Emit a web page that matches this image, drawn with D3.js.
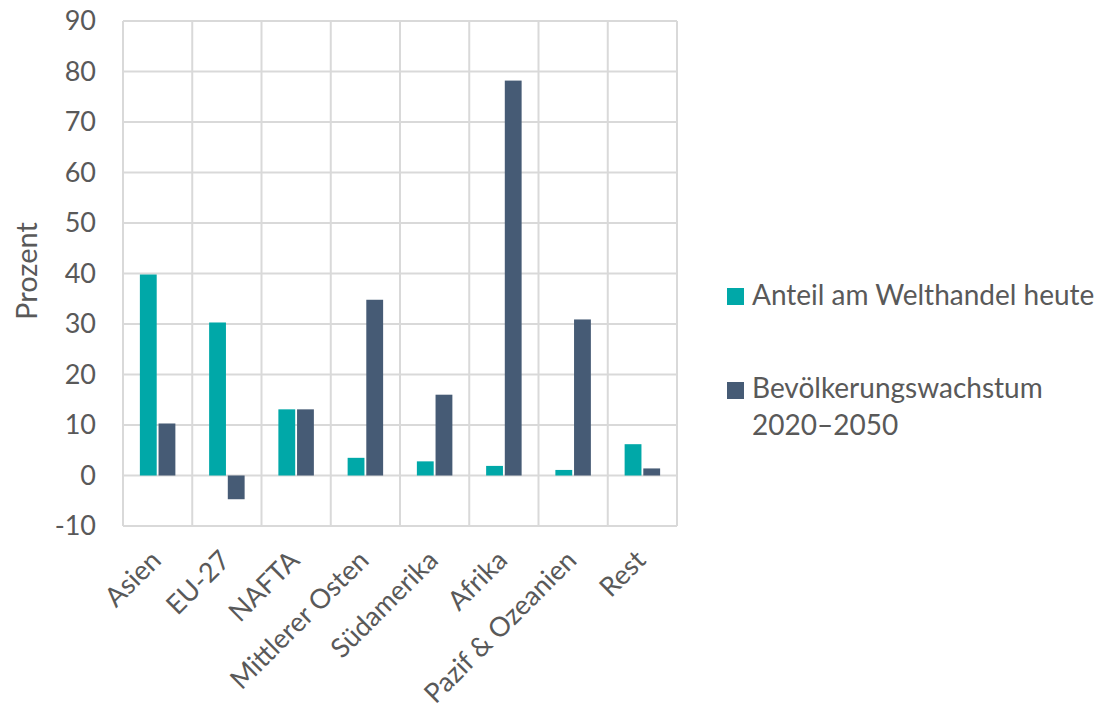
<!DOCTYPE html>
<html>
<head>
<meta charset="utf-8">
<script src="https://cdn.jsdelivr.net/npm/d3@7"></script>
<style>
  html, body { margin: 0; padding: 0; background: #fff; }
  svg text { font-family: Lato, "Open Sans", sans-serif; fill: #595959; }
</style>
</head>
<body>
<svg id="chart" width="1103" height="710"></svg>
<script>
const categories = ["Asien", "EU-27", "NAFTA", "Mittlerer Osten", "Südamerika", "Afrika", "Pazif & Ozeanien", "Rest"];
const welthandel = [39.8, 30.3, 13.1, 3.5, 2.8, 1.9, 1.1, 6.2];
const bevoelkerung = [10.3, -4.7, 13.1, 34.8, 16.0, 78.2, 30.9, 1.4];
const seriesNames = ["Anteil am Welthandel heute", "Bevölkerungswachstum 2020–2050"];
const yTicks = [-10, 0, 10, 20, 30, 40, 50, 60, 70, 80, 90];
const colors = ["#00a8a8", "#465b75"];

const svg = d3.select("#chart");
const pLeft = 123, pRight = 677, pTop = 21, pBottom = 526;

const x = d3.scaleBand().domain(categories).range([pLeft, pRight]).padding(0);
const y = d3.scaleLinear().domain([-10, 90]).range([pBottom, pTop]);

const grid = svg.append("g");
grid.selectAll("line.h").data(yTicks).enter().append("line")
  .attr("x1", pLeft).attr("x2", pRight)
  .attr("y1", d => y(d)).attr("y2", d => y(d))
  .attr("stroke", "#d9d9d9").attr("stroke-width", 2);
const vlines = categories.map(c => x(c)).concat([pRight]);
grid.selectAll("line.v").data(vlines).enter().append("line")
  .attr("x1", d => d).attr("x2", d => d)
  .attr("y1", pTop).attr("y2", pBottom)
  .attr("stroke", "#d9d9d9").attr("stroke-width", 2);

const barW = 16, gap = 3.5;
const inner = d3.scaleBand().domain([0, 1]).range([0, 2 * barW + gap]).paddingInner(gap / (2 * barW + gap));
const series = [welthandel, bevoelkerung];
series.forEach((vals, si) => {
  svg.append("g").selectAll("rect").data(vals).enter().append("rect")
    .attr("x", (d, i) => x(categories[i]) + x.bandwidth() / 2 - (2 * barW + gap) / 2 + inner(si))
    .attr("width", inner.bandwidth())
    .attr("y", d => y(Math.max(0, d)))
    .attr("height", d => Math.abs(y(d) - y(0)))
    .attr("fill", colors[si]);
});

// y axis labels
svg.append("g").selectAll("text").data(yTicks).enter().append("text")
  .attr("x", 96).attr("y", d => y(d))
  .attr("dy", "0.35em")
  .attr("text-anchor", "end")
  .style("font-size", "27px")
  .text(d => d);

svg.append("text")
  .attr("transform", "translate(37,271) rotate(-90)")
  .attr("text-anchor", "middle")
  .style("font-size", "29px")
  .text("Prozent");

// x labels
svg.append("g").selectAll("text").data(categories).enter().append("text")
  .attr("transform", d => `translate(${x(d) + x.bandwidth() / 2 + 5},${562}) rotate(-45)`)
  .attr("text-anchor", "end")
  .style("font-size", "27px")
  .text(d => d);

// legend
const lg = svg.append("g");
lg.append("rect").attr("x", 727).attr("y", 288).attr("width", 17).attr("height", 17).attr("fill", colors[0]);
lg.append("text").attr("x", 752).attr("y", 305).style("font-size", "28px").text(seriesNames[0]);
lg.append("rect").attr("x", 727).attr("y", 382).attr("width", 17).attr("height", 17).attr("fill", colors[1]);
const parts = seriesNames[1].split(" ");
lg.append("text").attr("x", 752).attr("y", 398).style("font-size", "28px").text(parts[0]);
lg.append("text").attr("x", 752).attr("y", 435).style("font-size", "28px").text(parts[1]);
</script>
</body>
</html>
